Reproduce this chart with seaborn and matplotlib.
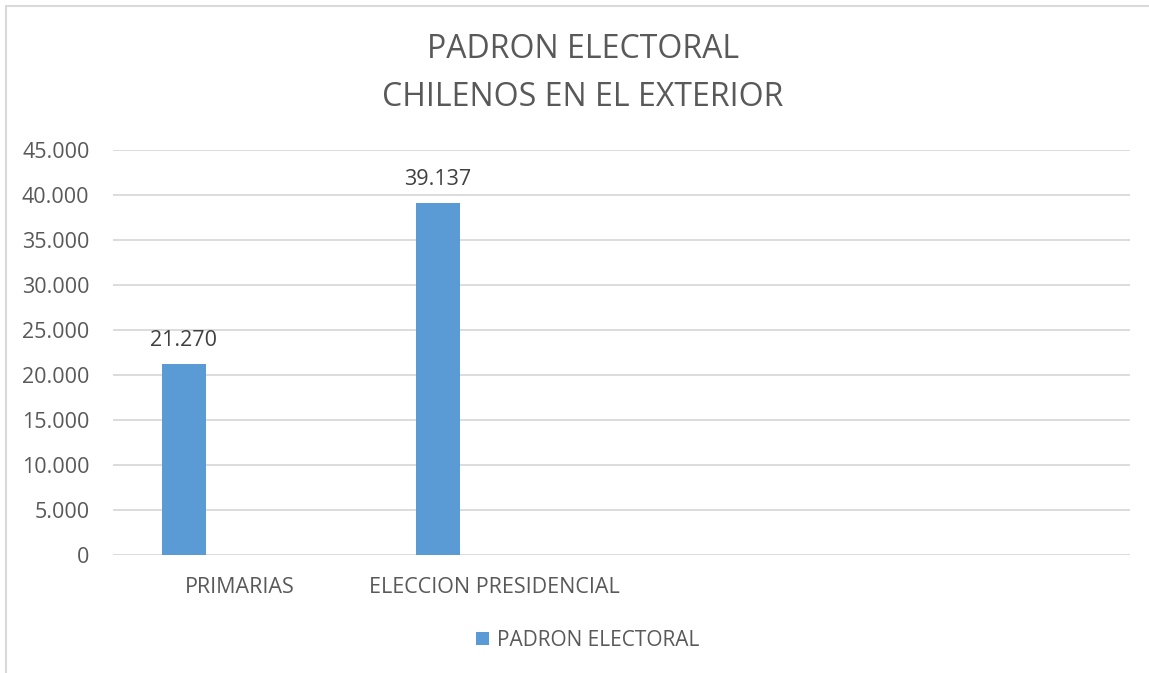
import numpy as np
import pandas as pd
import seaborn as sns
import matplotlib.pyplot as plt
from matplotlib.lines import Line2D
from matplotlib.patches import Patch
from matplotlib.ticker import FuncFormatter

# Datos del gráfico
categorias = ["PRIMARIAS", "ELECCION PRESIDENCIAL", " ", "  "]
padron = [21270, 39137, np.nan, np.nan]
serie = "PADRON ELECTORAL"

BAR_COLOR = "#5b9bd5"
TEXT_COLOR = "#595959"
GRID_COLOR = "#d9d9d9"

sns.set_theme(style="white")
plt.rcParams["font.family"] = ["Open Sans", "DejaVu Sans"]

df = pd.DataFrame({"categoria": categorias, "valor": padron})

fig = plt.figure(figsize=(11.49, 6.73), dpi=100)
ax = fig.add_axes([113 / 1149, 1 - 555 / 673, (1130 - 113) / 1149, (555 - 150) / 673])

sns.barplot(data=df, x="categoria", y="valor", order=categorias, color=BAR_COLOR,
            width=0.173, saturation=1, ax=ax, errorbar=None)

# desplazar las barras a la izquierda de cada categoría (como en Excel)
offset = -0.221
for p in ax.patches:
    p.set_x(p.get_x() + offset)
    p.set_edgecolor("none")

ax.set_xlim(-0.5, 3.5)
ax.set_ylim(0, 45000)
ax.set_yticks(range(0, 45001, 5000))
ax.yaxis.set_major_formatter(FuncFormatter(lambda v, _: f"{int(v):,}".replace(",", ".")))
ax.grid(axis="y", color=GRID_COLOR, linewidth=1.3)
ax.set_axisbelow(True)
for s in ax.spines.values():
    s.set_visible(False)
ax.set_xlabel("")
ax.set_ylabel("")
ax.tick_params(axis="both", length=0, labelsize=15.5, labelcolor=TEXT_COLOR)
ax.tick_params(axis="y", pad=17)
ax.tick_params(axis="x", pad=16)

# etiquetas de datos
for i, v in enumerate(padron):
    if not np.isnan(v):
        ax.annotate(f"{int(v):,}".replace(",", "."), (i + offset, v),
                    xytext=(0, 9), textcoords="offset points", ha="center", va="bottom",
                    fontsize=15.5, color="#404040")

# título
fig.text(583 / 1149, 1 - 74 / 673, "PADRON ELECTORAL\nCHILENOS EN EL EXTERIOR",
         ha="center", va="center", fontsize=23, color=TEXT_COLOR, linespacing=1.6)

# leyenda
handles = [Patch(facecolor=BAR_COLOR, edgecolor="none", label=serie)]
fig.legend(handles=handles, loc="center", bbox_to_anchor=(588 / 1149, 1 - 640 / 673),
           frameon=False, fontsize=15, labelcolor=TEXT_COLOR, handlelength=0.6,
           handleheight=0.6, handletextpad=0.4)

# borde del área del gráfico
fig.add_artist(Line2D([6 / 1149, 6 / 1149], [0, 1 - 6 / 673], color=GRID_COLOR, linewidth=1.5,
                      transform=fig.transFigure))
fig.add_artist(Line2D([6 / 1149, 1], [1 - 6 / 673, 1 - 6 / 673], color=GRID_COLOR, linewidth=1.5,
                      transform=fig.transFigure))

fig.savefig("out.png", dpi=100, facecolor="white")
